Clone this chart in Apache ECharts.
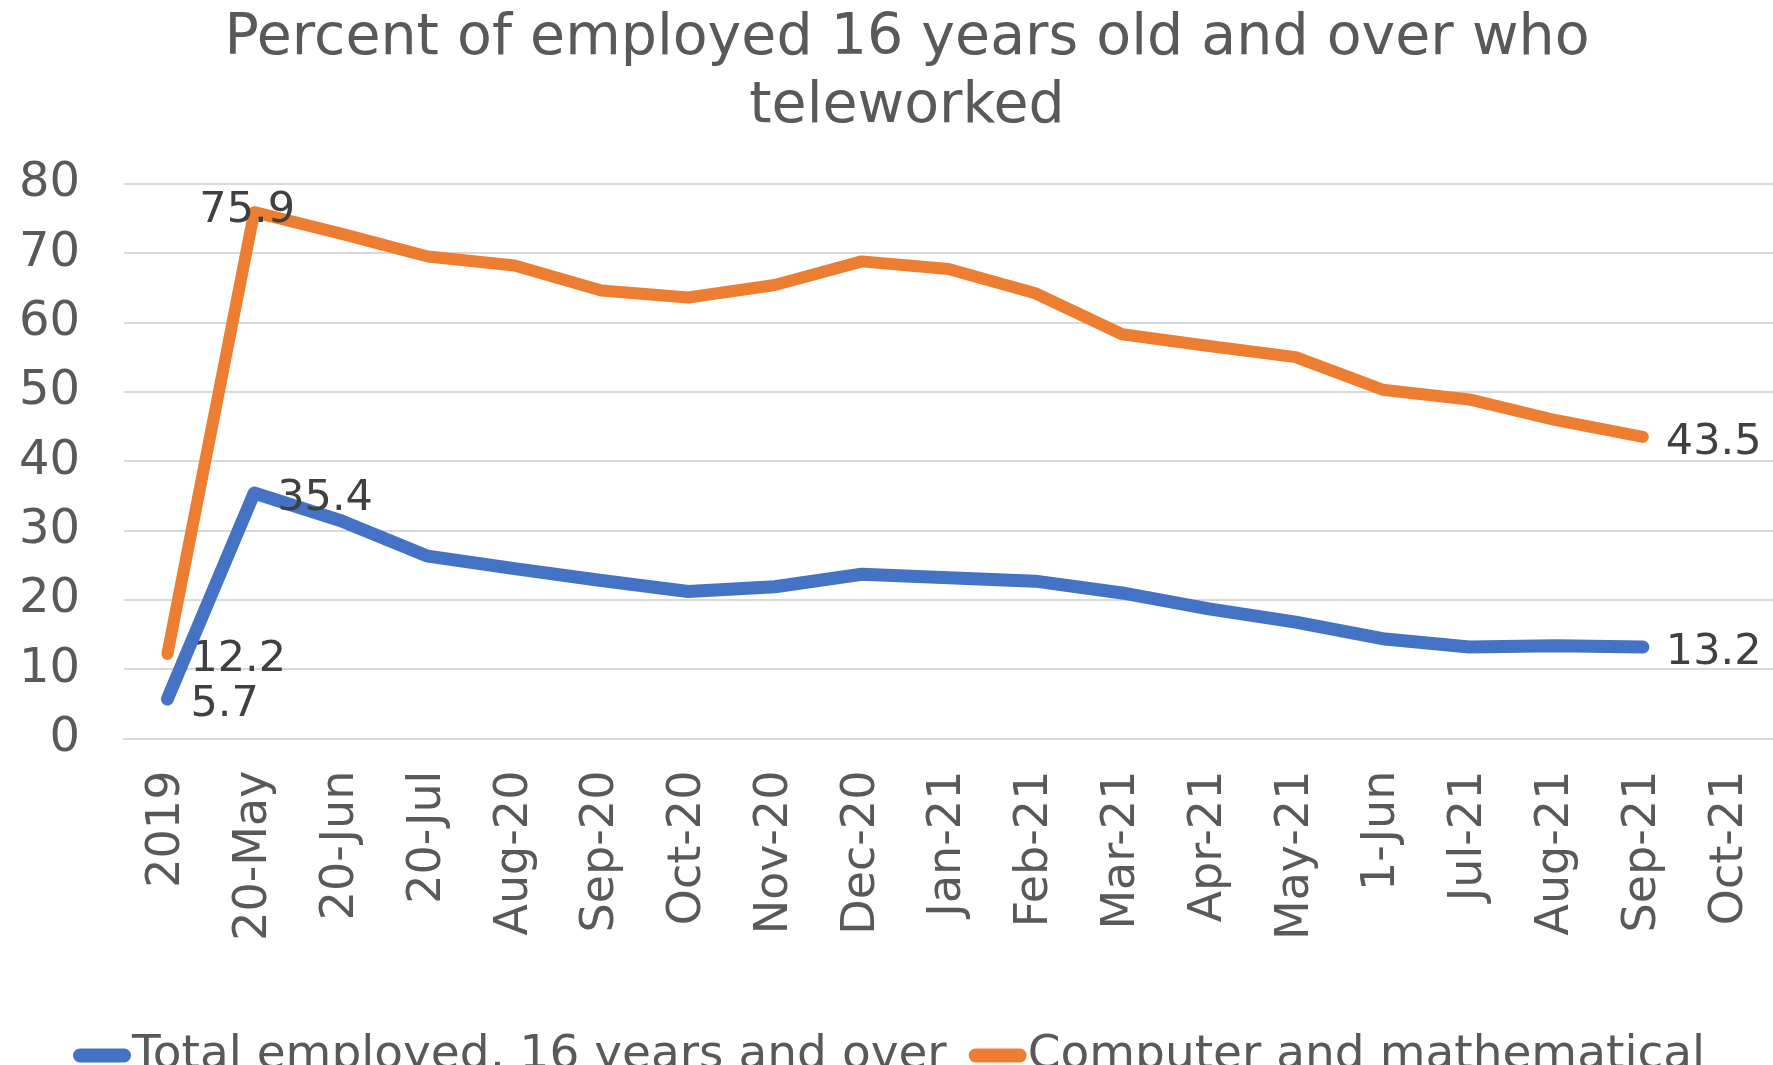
<!DOCTYPE html>
<html>
<head>
<meta charset="utf-8">
<script src="https://cdn.jsdelivr.net/npm/echarts@6/dist/echarts.min.js"></script>
<style>
html,body{margin:0;padding:0;background:#fff;}
#chart{width:1773px;height:1065px;}
</style>
</head>
<body>
<div id="chart"></div>
<script>
const titleText = 'Percent of employed 16 years old and over who\nteleworked';
const categories = ['2019','20-May','20-Jun','20-Jul','Aug-20','Sep-20','Oct-20','Nov-20','Dec-20','Jan-21','Feb-21','Mar-21','Apr-21','May-21','1-Jun','Jul-21','Aug-21','Sep-21','Oct-21'];
const seriesNames = ['Total employed, 16 years and over','Computer and mathematical'];
const totalEmployed = [5.7,35.4,31.4,26.3,24.5,22.8,21.2,21.9,23.7,23.2,22.7,21.0,18.7,16.8,14.4,13.2,13.4,13.2,null];
const computerMath = [12.2,75.9,72.8,69.5,68.2,64.6,63.6,65.4,68.8,67.7,64.2,58.3,56.6,55.0,50.3,48.9,45.9,43.5,null];
const labeledIdx = [0,1,17];
const yTicks = {min:0,max:80,interval:10};

const FONT = 'DejaVu Sans';
function withLabels(vals, special){
  return vals.map((v,i)=>{
    if(labeledIdx.indexOf(i)<0) return v;
    const lbl = Object.assign({show:true, position:'right', distance:22, offset:[0,6], color:'#404040', fontSize:43, fontFamily:FONT}, special[i]||{});
    return {value:v, label:lbl};
  });
}
const chart = echarts.init(document.getElementById('chart'), null, {renderer:'canvas'});
chart.setOption({
  animation:false,
  backgroundColor:'#fff',
  title:{text:titleText,left:902,top:0,textAlign:'center',
    textStyle:{color:'#595959',fontSize:57,fontWeight:'normal',fontFamily:FONT,lineHeight:68}},
  legend:{bottom:-19,left:68,itemWidth:58,itemHeight:14,itemGap:22,
    icon:'path://M7,0 L51,0 A7,7 0 0 1 51,14 L7,14 A7,7 0 0 1 7,0 Z',
    textStyle:{color:'#595959',fontSize:47,fontFamily:FONT,padding:[0,0,0,-4]},
    data:seriesNames},
  grid:{left:124,right:-2,top:183.7,bottom:326.4,containLabel:false},
  xAxis:{type:'category',data:categories,boundaryGap:true,
    axisLine:{show:true,lineStyle:{color:'#D9D9D9',width:2}},
    axisTick:{show:false},
    axisLabel:{rotate:90,interval:0,margin:32,color:'#595959',fontSize:46,fontFamily:FONT}},
  yAxis:{type:'value',min:yTicks.min,max:yTicks.max,interval:yTicks.interval,
    axisLine:{show:false},axisTick:{show:false},
    splitLine:{lineStyle:{color:'#D9D9D9',width:2}},
    axisLabel:{margin:44,color:'#595959',fontSize:48,fontFamily:FONT}},
  series:[
    {name:seriesNames[0],type:'line',data:withLabels(totalEmployed,{}),
      showSymbol:true,symbol:'circle',symbolSize:2,color:'#4472C4',
      itemStyle:{color:'#4472C4'},
      lineStyle:{width:13,color:'#4472C4',cap:'round',join:'round'},z:3},
    {name:seriesNames[1],type:'line',data:withLabels(computerMath,{1:{position:'inside',offset:[-7,-1]}}),
      showSymbol:true,symbol:'circle',symbolSize:2,color:'#ED7D31',
      itemStyle:{color:'#ED7D31'},
      lineStyle:{width:12,color:'#ED7D31',cap:'round',join:'round'},z:2}
  ]
});
</script>
</body>
</html>
